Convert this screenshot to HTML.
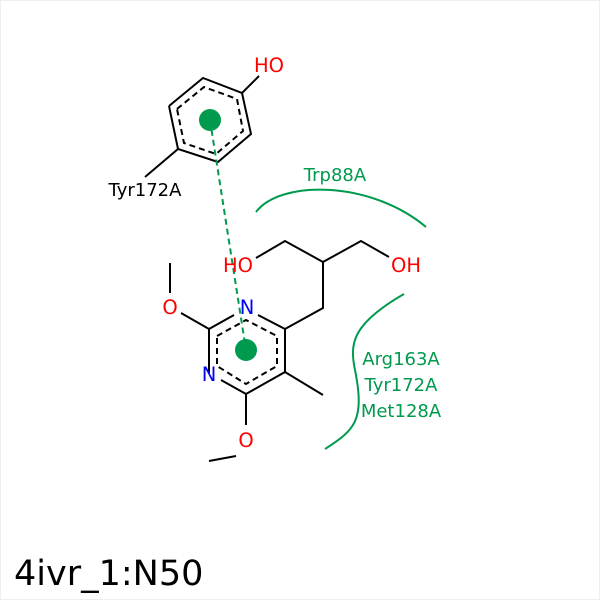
<!DOCTYPE html>
<html><head><style>body{margin:0;background:#fff}</style></head><body>
<svg width="600" height="600" viewBox="0 0 600 600" xmlns="http://www.w3.org/2000/svg" font-family="DejaVu Sans, Liberation Sans, sans-serif">
<rect x="0.5" y="0.5" width="599" height="599" fill="#fff" stroke="#eee"/>
<g stroke="#000" stroke-width="2" fill="none">
<polyline points="169,106 203,78 242,93 251,134 218,162 178,149 169,106"/>
<g stroke-dasharray="6,4"><polyline points="177,109 204,87 237,99 243,131 216,154 184,143 177,109"/></g>
<line x1="242" y1="93" x2="259" y2="76"/>
<line x1="178" y1="149" x2="145" y2="177"/>
<polyline points="209,373 209,329 234,315"/>
<polyline points="258,315 285,329 285,372 246,394 221,380"/>
<g stroke-dasharray="6,4"><polyline points="217,336 246,320 277,336 277,366 246,384 217,366 217,336"/></g>
<line x1="209" y1="329" x2="181" y2="313"/>
<line x1="170" y1="263" x2="170" y2="293"/>
<line x1="246" y1="394" x2="246" y2="425"/>
<line x1="236" y1="456" x2="209" y2="461"/>
<line x1="285" y1="372" x2="323" y2="395"/>
<polyline points="285,329 323,308 323,262"/>
<polyline points="256,258 285,241 323,262 361,241 389,257"/>
</g>
<line x1="210" y1="120" x2="246" y2="350" stroke="#009a4e" stroke-width="2" stroke-dasharray="6,4"/>
<circle cx="210" cy="120" r="11" fill="#009a4e"/>
<circle cx="246" cy="350" r="11" fill="#009a4e"/>
<path d="M256,212 C280,180 370,180 426,227" stroke="#009a4e" stroke-width="2" fill="none"/>
<path d="M404,294 C350,325 350,345 355,370 C365,420 355,430 325,449" stroke="#009a4e" stroke-width="2" fill="none"/>
<g font-size="19.5" text-anchor="middle">
<text x="269" y="72" fill="#f00">HO</text>
<text x="238" y="272" fill="#f00">HO</text>
<text x="406" y="272" fill="#f00">OH</text>
<text x="170" y="314" fill="#f00">O</text>
<text x="246" y="447" fill="#f00">O</text>
<text x="247" y="314" fill="#00f">N</text>
<text x="209" y="381" fill="#00f">N</text>
</g>
<g font-size="18" text-anchor="middle">
<text x="145" y="196" fill="#000">Tyr172A</text>
<text x="335" y="181" fill="#009a4e">Trp88A</text>
<text x="401" y="365" fill="#009a4e">Arg163A</text>
<text x="401" y="391" fill="#009a4e">Tyr172A</text>
<text x="401" y="417" fill="#009a4e">Met128A</text>
</g>
<text x="14" y="585" font-size="35" fill="#000">4ivr_1:N50</text>
</svg>
</body></html>
